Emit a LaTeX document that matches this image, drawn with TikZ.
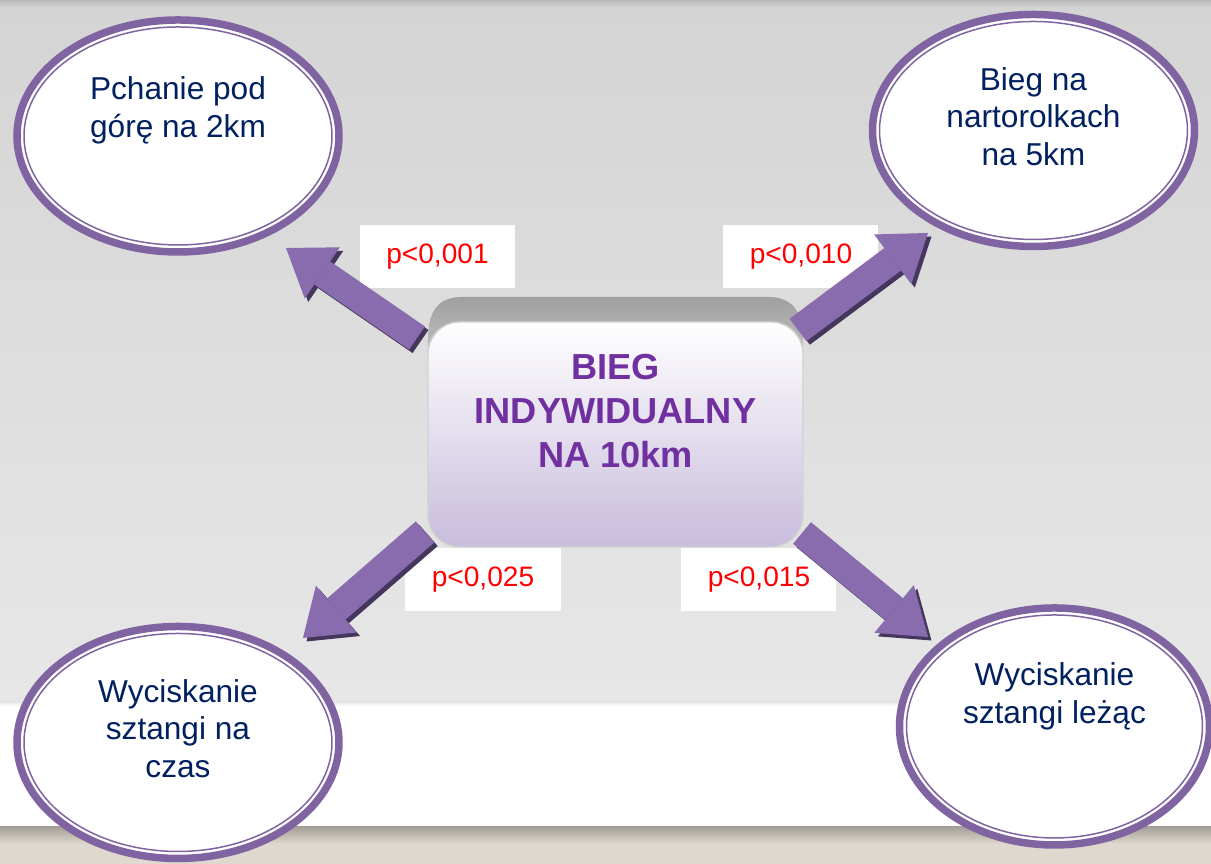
\documentclass[tikz,border=0pt]{standalone}
\usepackage{fontspec}
\setmainfont{Liberation Sans}
\usepackage{tikz}
\usetikzlibrary{arrows.meta,positioning,shapes.geometric,calc}
\definecolor{ringP}{RGB}{128,100,162}
\definecolor{arrP}{RGB}{136,108,174}
\definecolor{arrS}{RGB}{68,54,92}
\definecolor{navyT}{RGB}{0,32,96}
\definecolor{headP}{RGB}{112,48,160}
\definecolor{faceL}{RGB}{200,188,220}
\definecolor{bgTop}{RGB}{212,212,212}
\definecolor{bgLow}{RGB}{231,231,231}
\definecolor{beige}{RGB}{222,216,206}
\definecolor{beigeD}{RGB}{165,160,152}

\begin{document}
\begin{tikzpicture}[
  bub/.style={ellipse, draw=ringP, line width=0.075cm, fill=white, minimum width=3.22cm, minimum height=2.32cm, inner sep=0},
  ring/.style={draw=ringP, line width=0.015cm},
  bubtxt/.style={font=\fontsize{9pt}{10.7pt}\selectfont, text=navyT, align=center, inner sep=0},
  face/.style={rectangle, rounded corners=0.32cm, draw=gray!35, top color=white, bottom color=faceL, minimum width=3.75cm, minimum height=2.25cm},
  headtxt/.style={font=\bfseries\fontsize{10.3pt}{12.6pt}\selectfont, text=headP, align=center},
  pbox/.style={rectangle, fill=white, minimum width=1.55cm, minimum height=0.63cm, font=\fontsize{8pt}{9.6pt}\selectfont, text=red},
  blk/.style={line width=0.28cm, draw=arrP, -{Triangle[width=0.62cm, length=0.44cm, line width=0pt]}},
  blksh/.style={blk, draw=arrS, transform canvas={shift={(0.035,-0.035)}}}]
  \useasboundingbox (0,0) rectangle (12.11,8.64);
  % slide background
  \shade[top color=bgTop, bottom color=bgLow] (0,1.62) rectangle (12.11,8.64);
  \shade[top color=gray!55, bottom color=bgTop] (0,8.57) rectangle (12.11,8.64);
  \shade[top color=bgLow, bottom color=white] (0,1.58) rectangle (12.11,1.62);
  \fill[white] (0,0.37) rectangle (12.11,1.58);
  \shade[top color=beigeD, bottom color=beige] (0,0.2) rectangle (12.11,0.37);
  \fill[beige] (0,0) rectangle (12.11,0.2);
  % centre block
  \shade[top color=gray!75, bottom color=gray!45] (4.28,5.0) -- (4.28,5.25)
    .. controls (4.28,5.55) and (4.40,5.67) .. (4.62,5.67) -- (7.68,5.67)
    .. controls (7.90,5.67) and (8.03,5.55) .. (8.03,5.25) -- (8.03,5.0) -- cycle;
  \node[face] (main) at (6.155,4.295) {};
  \node[headtxt] (mtxt) at ([yshift=0.235cm]main.center) {BIEG\\INDYWIDUALNY\\NA 10km};
  % outer events
  \node[bub] (tl) at (1.78,7.28) {};
  \node[bub] (tr) at (10.335,7.335) {};
  \node[bub] (bl) at (1.78,1.215) {};
  \node[bub, minimum width=3.1cm, minimum height=2.37cm] (br) at (10.545,1.375) {};
  \foreach \n/\rx/\ry in {tl/1.54/1.09, tr/1.54/1.09, bl/1.54/1.09, br/1.48/1.115}
    \draw[ring] (\n.center) ellipse [x radius=\rx cm, y radius=\ry cm];
  \node[bubtxt, below=0.6cm of tl.north] (tlt) {Pchanie pod\\górę na 2km};
  \node[bubtxt, below=0.56cm of tr.north] (trt) {Bieg na\\nartorolkach\\na 5km};
  \node[bubtxt, below=0.56cm of bl.north] (blt) {Wyciskanie\\sztangi na\\czas};
  \node[bubtxt, below=0.58cm of br.north] (brt) {Wyciskanie\\sztangi leżąc};
  % p-values
  \node[pbox] (p1) at (4.375,6.075) {p<0,001};
  \node[pbox] (p2) at (8.01,6.075) {p<0,010};
  \node[pbox] (p3) at (4.83,2.84) {p<0,025};
  \node[pbox] (p4) at (7.59,2.84) {p<0,015};
  % block arrows
  \coordinate (s1) at (4.17,5.26); \coordinate (e1) at (2.86,6.16);
  \coordinate (s2) at (7.98,5.34); \coordinate (e2) at (9.28,6.31);
  \coordinate (s3) at (4.25,3.32); \coordinate (e3) at (3.03,2.26);
  \coordinate (s4) at (8.02,3.31); \coordinate (e4) at (9.28,2.27);
  \foreach \i in {1,...,4} {
    \draw[blksh] (s\i) -- (e\i);
    \draw[blk] (s\i) -- (e\i);
  }
\end{tikzpicture}
\end{document}
